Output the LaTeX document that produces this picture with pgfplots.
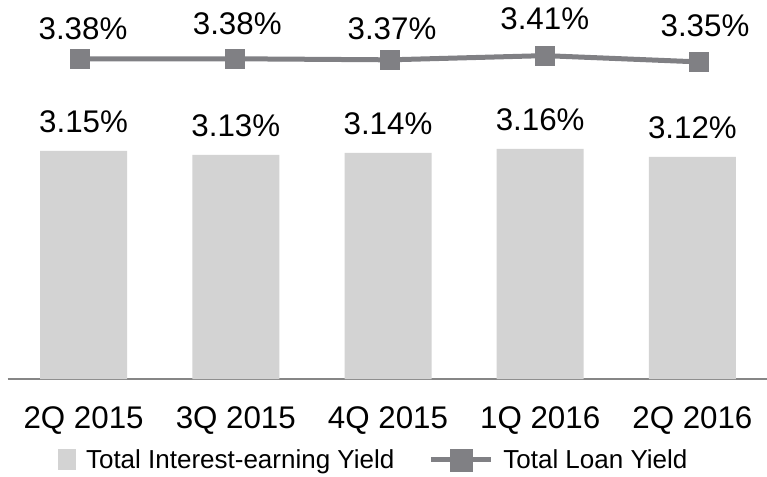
\documentclass[border=0pt]{standalone}
\usepackage{pgfplots}
\pgfplotsset{compat=1.18}
\usepackage{fontspec}
\setmainfont{Liberation Sans}
\definecolor{barcol}{RGB}{211,211,211}
\definecolor{linecol}{RGB}{128,128,132}
\definecolor{axcol}{RGB}{134,134,134}
\begin{document}
\begin{tikzpicture}
\path[use as bounding box] (0,0) rectangle (767pt,476pt);
\begin{axis}[
  at={(7.5pt,97pt)}, anchor=south west,
  scale only axis, width=761pt, height=379pt,
  xmin=-0.5, xmax=4.5, ymin=2.01, ymax=3.905,
  axis x line*=bottom, axis y line=none,
  x axis line style={axcol, line width=1.7pt, -},
  xtick={0,...,4}, xticklabels={2Q 2015,3Q 2015,4Q 2015,1Q 2016,2Q 2016},
  major tick length=0pt,
  xticklabel style={anchor=base, yshift=-49pt, font=\fontsize{31.3}{36}\selectfont},
  ytick=\empty,
  ybar, bar width=87pt, bar shift=0pt,
  nodes near coords={\pgfmathprintnumber{\pgfplotspointmeta}\%},
  nodes near coords style={anchor=base, yshift=18.5pt, font=\fontsize{31.3}{36}\selectfont, text=black},
  /pgf/number format/fixed, /pgf/number format/precision=2,
  /pgf/number format/fixed zerofill, /pgf/number format/assume math mode=true,
  legend columns=2,
  legend style={at={(0.0664,-0.2137)}, anchor=west, draw=none, fill=none,
    inner sep=0pt, outer sep=0pt, font=\fontsize{26}{30}\selectfont,
    nodes={inner sep=0pt},
    /tikz/every odd column/.style={column sep=10pt},
    /tikz/every even column/.style={column sep=34pt}},
]
\addplot[fill=barcol, draw=none,
  legend image code/.code={\fill[barcol] (0pt,-10.5pt) rectangle (18pt,10.5pt);}]
  coordinates {(0,3.15) (1,3.13) (2,3.14) (3,3.16) (4,3.12)};
\addlegendentry{Total Interest-earning Yield}
\addlegendimage{legend image code/.code={\draw[linecol, line width=5pt] (0pt,0pt)--(60pt,0pt); \fill[linecol] (19pt,-11pt) rectangle (41pt,11pt);}}
\addlegendentry{Total Loan Yield}
\end{axis}
\begin{axis}[
  at={(7.5pt,97pt)}, anchor=south west,
  scale only axis, width=761pt, height=379pt,
  xmin=-0.4717, xmax=4.446, ymin=0.33, ymax=3.94,
  hide axis,
  /pgf/number format/fixed, /pgf/number format/precision=2,
  /pgf/number format/fixed zerofill, /pgf/number format/assume math mode=true,
]
\addplot[linecol, line width=5pt, mark=square*, mark size=9.5pt,
  mark options={solid, line width=0pt, fill=linecol},
  visualization depends on={\thisrow{dx}\as\dx},
  visualization depends on={\thisrow{dy}\as\dy},
  nodes near coords={\pgfmathprintnumber{\pgfplotspointmeta}\%},
  nodes near coords style={anchor=base, xshift=\dx pt, yshift=\dy pt, font=\fontsize{31.3}{36}\selectfont, text=black}]
  table[x=x, y=y] {
x y dx dy
0 3.38 2.5 19
1 3.38 2 24
2 3.37 2 20.5
3 3.41 0 26
4 3.35 5.5 25.5
};
\end{axis}
\end{tikzpicture}
\end{document}
